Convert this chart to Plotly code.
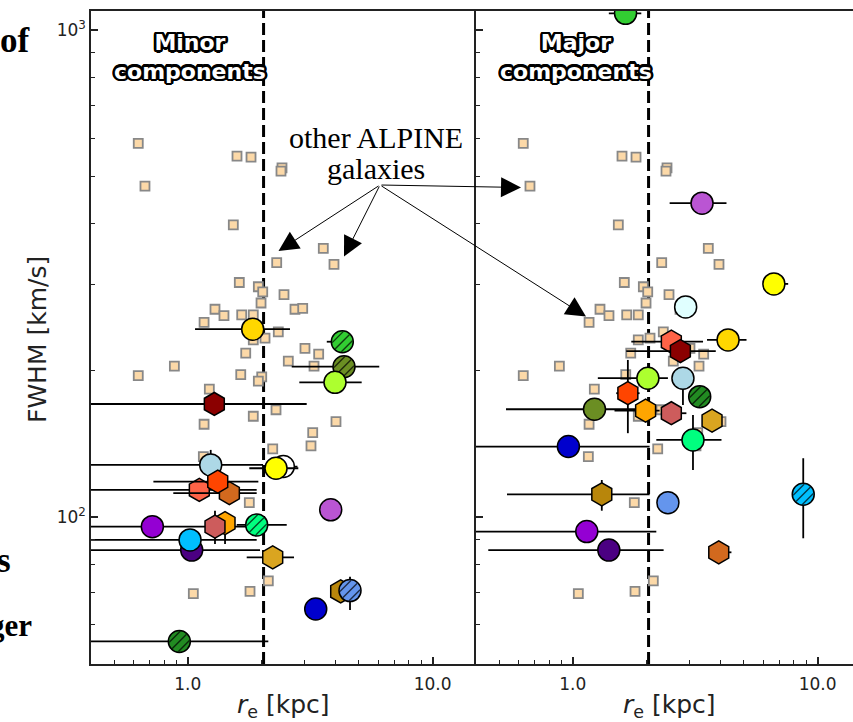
import math
import plotly.graph_objects as go

# ---------------------------------------------------------------- data
# other ALPINE galaxies (background sample, drawn in both panels)
alpine_re = [0.628, 0.669, 1.589, 1.813, 2.426, 2.403, 1.535, 2.308, 3.577, 3.955,
             1.624, 1.942, 2.024, 2.472, 1.992, 1.292, 1.406, 1.661, 1.852, 2.741,
             2.947, 1.166, 2.343, 1.852, 2.068, 1.725, 3.011, 3.425, 2.574, 3.278,
             0.882, 0.628, 1.646, 2.005, 1.942, 1.225, 2.293, 1.852, 1.166, 4.030,
             3.238, 3.186, 2.223, 1.158, 1.784, 2.133, 1.054, 1.796]
alpine_fwhm = [585, 478, 551, 548, 521, 513, 398, 333, 356, 330,
               303, 297, 290, 286, 275, 267, 259, 260, 260, 267,
               268, 251, 240, 231, 233, 217, 222, 216, 209, 204,
               204, 195, 196, 194, 190, 183, 166, 161, 155, 157,
               149, 140, 138, 133, 107, 73.9, 69.6, 70.3]

# minor components (drawing order = list order)
minor_color = ["gold", "limegreen", "olivedrab", "greenyellow", "darkred", "white",
               "yellow", "lightblue", "tomato", "chocolate", "orangered", "darkviolet",
               "orange", "indianred", "springgreen", "indigo", "deepskyblue", "goldenrod",
               "mediumorchid", "darkgoldenrod", "cornflowerblue", "mediumblue", "forestgreen"]
minor_shape = ["circle", "circle", "circle", "circle", "hexagon", "circle",
               "circle", "circle", "hexagon", "hexagon", "hexagon", "circle",
               "hexagon", "hexagon", "circle", "circle", "circle", "hexagon",
               "circle", "hexagon", "circle", "circle", "circle"]
minor_hatched = [False, True, True, False, False, False,
                 False, False, False, False, False, False,
                 False, False, True, False, False, False,
                 False, False, True, False, True]
minor_re = [1.842, 4.276, 4.345, 3.993, 1.284, 2.456, 2.293, 1.241, 1.115, 1.479, 1.326, 0.717,
            1.420, 1.292, 1.912, 1.038, 1.022, 2.223, 3.835, 4.212, 4.598, 3.331, 0.924]
minor_re_lo = [0.771, 0.580, 1.687, 1.138, 1.200, 0.400, 0.509, 1.150, 1.050, 0.606, 0.602, 0.650,
               0.0, 0.0, 0.327, 0.950, 0.950, 0.482, 0.0, 0.0, 0.0, 0.0, 0.850]
minor_re_hi = [0.773, 0.470, 1.708, 1.138, 1.776, 0.350, 0.535, 0.789, 0.797, 0.433, 0.616, 1.313,
               0.0, 0.0, 0.624, 0.935, 0.890, 0.493, 0.0, 0.0, 0.0, 0.0, 1.209]
minor_fwhm = [243, 229, 203.5, 189, 170.6, 126.9, 125.9, 127.9, 113.6, 111.9, 118.2, 95.5,
              97.1, 95.5, 96.3, 85.5, 89.7, 82.6, 103.4, 70.3, 70.6, 64.7, 55.5]
minor_fwhm_lo = [0, 0, 0, 0, 0, 0, 0, 9.0, 0, 0, 0, 0,
                 9.1, 7.5, 0, 0, 0, 0, 0, 0, 6.2, 0, 0]
minor_fwhm_hi = [0, 0, 0, 0, 0, 0, 0, 9.4, 0, 0, 0, 0,
                 4.7, 7.5, 0, 0, 0, 0, 0, 0, 4.8, 0, 0]

# major components
major_color = ["limegreen", "mediumorchid", "yellow", "lightcyan", "gold", "tomato",
               "darkred", "greenyellow", "lightblue", "olivedrab", "orangered", "orange",
               "indianred", "forestgreen", "goldenrod", "springgreen", "mediumblue",
               "darkgoldenrod", "cornflowerblue", "deepskyblue", "darkviolet", "indigo", "chocolate"]
major_shape = ["circle", "circle", "circle", "circle", "circle", "hexagon",
               "hexagon", "circle", "circle", "circle", "hexagon", "hexagon",
               "hexagon", "circle", "hexagon", "circle", "circle",
               "hexagon", "circle", "circle", "circle", "circle", "hexagon"]
major_hatched = [False, False, False, False, False, False,
                 False, False, False, False, False, False,
                 False, True, False, False, False,
                 False, False, True, False, False, False]
major_re = [1.643, 3.372, 6.625, 2.891, 4.307, 2.527, 2.751, 2.027, 2.818, 1.227, 1.679, 1.984,
            2.527, 3.299, 3.705, 3.097, 0.960, 1.314, 2.447, 8.733, 1.141, 1.404, 3.946]
major_re_lo = [0.239, 0.885, 0.635, 0.0, 0.773, 0.793, 1.097, 0.761, 0.250, 0.693, 0.174, 0.503,
               0.227, 0.0, 0.0, 0.903, 0.870, 0.775, 0.0, 0.0, 1.050, 0.952, 0.346]
major_re_hi = [0.262, 0.872, 0.955, 0.0, 0.816, 0.877, 1.086, 0.420, 0.300, 0.833, 0.196, 0.279,
               0.384, 0.0, 0.0, 0.952, 1.100, 0.746, 0.0, 0.0, 1.053, 0.946, 0.500]
major_fwhm = [1082, 441, 301, 270, 231, 229, 219, 192.7, 192.7, 166.4, 179.5, 165.3,
              163.3, 176.6, 157.7, 143.9, 139.5, 111.3, 107, 111.3, 93.3, 85.5, 84.6]
major_fwhm_lo = [0, 0, 0, 0, 0, 0, 0, 0, 23.0, 0, 30.9, 0,
                 0, 0, 0, 19.0, 0, 8.3, 0, 20.9, 0, 0, 0]
major_fwhm_hi = [0, 0, 0, 0, 0, 0, 0, 0, 0, 0, 30.6, 0,
                 0, 0, 0, 18.1, 0, 7.8, 0, 20.7, 0, 0, 0]

R_E_SPLIT = 2.04          # kpc, dashed separator
x_tick_vals = [1, 10]
x_tick_text = ["1.0", "10.0"]
y_tick_vals = [100, 1000]
y_tick_text = ["10<sup>2</sup>", "10<sup>3</sup>"]

# ---------------------------------------------------------------- geometry
W, H = 853, 722
X0_PX, XMID_PX, Y0_PX, Y1_PX = 91, 476, 11, 664
X_RANGE_L = [-0.395, 1.177]
Y_RANGE = [1.698, 3.039]
PPX = (XMID_PX - X0_PX) / (X_RANGE_L[1] - X_RANGE_L[0])   # px per decade in x
PPY = (Y1_PX - Y0_PX) / (Y_RANGE[1] - Y_RANGE[0])         # px per decade in y
X_RANGE_R = [X_RANGE_L[0], X_RANGE_L[0] + (W - XMID_PX) / PPX]

INK = "#222222"
TICK_FONT = dict(family="DejaVu Sans", size=17, color=INK)

fig = go.Figure()


def add_background(xa, ya):
    fig.add_trace(go.Scatter(
        x=alpine_re, y=alpine_fwhm, mode="markers", xaxis=xa, yaxis=ya,
        marker=dict(symbol="square", size=9, color="#FCD9A8",
                    line=dict(color="#888888", width=1.8)),
        hoverinfo="skip", showlegend=False))


def add_components(xa, ya, color, shape, hatched, re, re_lo, re_hi, fw, fw_lo, fw_hi):
    for i in range(len(re)):
        has_x = re_lo[i] > 0 or re_hi[i] > 0
        has_y = fw_lo[i] > 0 or fw_hi[i] > 0
        fig.add_trace(go.Scatter(
            x=[re[i]], y=[fw[i]], mode="markers", xaxis=xa, yaxis=ya,
            error_x=dict(type="data", symmetric=False, array=[re_hi[i]],
                         arrayminus=[re_lo[i]], width=0, thickness=1.8,
                         color="black", visible=has_x),
            error_y=dict(type="data", symmetric=False, array=[fw_hi[i]],
                         arrayminus=[fw_lo[i]], width=0, thickness=1.8,
                         color="black", visible=has_y),
            marker=dict(symbol=shape[i], size=23 if shape[i] == "hexagon" else 22,
                        color=color[i], line=dict(color="black", width=1.5)),
            hoverinfo="skip", showlegend=False))
        if hatched[i]:
            # three parallel "/" strokes across the marker
            k = 6.5 / math.sqrt(2)
            hx = [re[i] * 10 ** (s * k / PPX) for s in (-1, 0, 1)]
            hy = [fw[i] * 10 ** (-s * k / PPY) for s in (-1, 0, 1)]
            fig.add_trace(go.Scatter(
                x=hx, y=hy, mode="markers", xaxis=xa, yaxis=ya,
                marker=dict(symbol="line-ne", size=[11, 14.5, 11],
                            line=dict(color="black", width=1.4)),
                hoverinfo="skip", showlegend=False))


add_background("x", "y")
add_background("x2", "y2")
add_components("x", "y", minor_color, minor_shape, minor_hatched,
               minor_re, minor_re_lo, minor_re_hi, minor_fwhm, minor_fwhm_lo, minor_fwhm_hi)
add_components("x2", "y2", major_color, major_shape, major_hatched,
               major_re, major_re_lo, major_re_hi, major_fwhm, major_fwhm_lo, major_fwhm_hi)

# dashed separator in each panel
for xa, ya in (("x", "y"), ("x2", "y2")):
    fig.add_shape(type="line", xref=xa, yref=ya + " domain", x0=R_E_SPLIT, x1=R_E_SPLIT,
                  y0=0, y1=1, line=dict(color="black", width=3, dash="12px,5px"),
                  layer="below")

x_minor = [0.4, 0.5, 0.6, 0.7, 0.8, 0.9, 2, 3, 4, 5, 6, 7, 8, 9]
y_minor = [60, 70, 80, 90, 200, 300, 400, 500, 600, 700, 800, 900]
minor_x = dict(tickvals=x_minor, ticks="inside", ticklen=4, tickwidth=1.2, tickcolor=INK)
minor_y = dict(tickvals=y_minor, ticks="inside", ticklen=4, tickwidth=1.2, tickcolor=INK)

axis_common = dict(type="log", showgrid=False, zeroline=False, showline=True,
                   linecolor=INK, linewidth=1.5, ticks="inside", ticklen=7,
                   tickwidth=1.5, tickcolor=INK, tickfont=TICK_FONT)

y_domain = [1 - Y1_PX / H, 1 - Y0_PX / H]
fig.update_layout(
    width=W, height=H, autosize=False,
    margin=dict(l=0, r=0, t=0, b=0),
    paper_bgcolor="white", plot_bgcolor="white", showlegend=False,
    xaxis=dict(axis_common, domain=[X0_PX / W, XMID_PX / W], range=X_RANGE_L,
               anchor="y", mirror=True, tickvals=x_tick_vals, ticktext=x_tick_text,
               minor=minor_x, ticklabelstandoff=4),
    yaxis=dict(axis_common, domain=y_domain, range=Y_RANGE, anchor="x", mirror=False,
               tickvals=y_tick_vals, ticktext=y_tick_text, minor=minor_y),
    xaxis2=dict(axis_common, domain=[XMID_PX / W, 1.0], range=X_RANGE_R,
                anchor="y2", mirror=True, tickvals=x_tick_vals, ticktext=x_tick_text,
                minor=minor_x, ticklabelstandoff=4),
    yaxis2=dict(axis_common, domain=y_domain, range=Y_RANGE, anchor="x2",
                showticklabels=False, tickvals=y_tick_vals, minor=minor_y),
)


def px(x):
    return x / W


def py(y):
    return 1 - y / H


OUTLINE = ("2.5px 0 0 #000,-2.5px 0 0 #000,0 2.5px 0 #000,0 -2.5px 0 #000,"
           "1.8px 1.8px 0 #000,-1.8px 1.8px 0 #000,1.8px -1.8px 0 #000,-1.8px -1.8px 0 #000,"
           "2.3px 1px 0 #000,-2.3px 1px 0 #000,2.3px -1px 0 #000,-2.3px -1px 0 #000,"
           "1px 2.3px 0 #000,-1px 2.3px 0 #000,1px -2.3px 0 #000,-1px -2.3px 0 #000")

texts = [
    dict(text="<b>Minor<br>components</b>", x=px(190), y=py(57),
         font=dict(family="DejaVu Sans", size=22, color="white", shadow=OUTLINE)),
    dict(text="<b>Major<br>components</b>", x=px(576), y=py(57),
         font=dict(family="DejaVu Sans", size=22, color="white", shadow=OUTLINE)),
    dict(text="other ALPINE", x=px(375.5), y=py(138),
         font=dict(family="Liberation Serif", size=30, color="black")),
    dict(text="galaxies", x=px(375.5), y=py(168),
         font=dict(family="Liberation Serif", size=30, color="black")),
    dict(text="FWHM [km/s]", x=px(38), y=py(340), textangle=-90,
         font=dict(family="DejaVu Sans", size=25, color=INK)),
    dict(text="<i>r</i><sub>e</sub> [kpc]", x=px(283.5), y=py(706),
         font=dict(family="DejaVu Sans", size=25, color=INK)),
    dict(text="<i>r</i><sub>e</sub> [kpc]", x=px(669), y=py(706),
         font=dict(family="DejaVu Sans", size=25, color=INK)),
    dict(text="<b>of</b>", x=px(32), y=py(40), xanchor="right",
         font=dict(family="Liberation Serif", size=35, color="black")),
    dict(text="<b>s</b>", x=px(13), y=py(560), xanchor="right",
         font=dict(family="Liberation Serif", size=35, color="black")),
    dict(text="<b>ger</b>", x=px(34), y=py(625), xanchor="right",
         font=dict(family="Liberation Serif", size=31, color="black")),
]
for t in texts:
    t.setdefault("xanchor", "center")
    fig.add_annotation(xref="paper", yref="paper", showarrow=False, yanchor="middle", **t)

# arrows pointing from the label to the background sample
tail = (380, 185)
heads = [(278.5, 251), (344, 256.5), (586, 316.5), (521, 187.5)]
for hx, hy in heads:
    fig.add_annotation(xref="paper", yref="paper", x=px(hx), y=py(hy),
                       ax=tail[0] - hx, ay=tail[1] - hy, text="", showarrow=True,
                       arrowhead=2, arrowsize=4, arrowwidth=1, arrowcolor="black",
                       standoff=0)

fig.write_html("out.html")
